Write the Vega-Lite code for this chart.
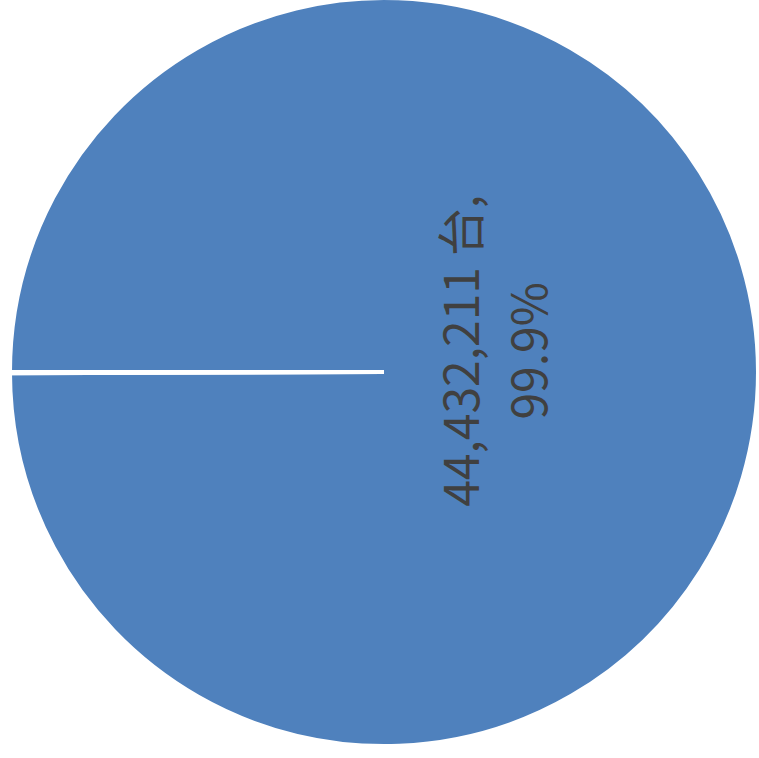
{
  "$schema": "https://vega.github.io/schema/vega-lite/v6.json",
  "width": 750,
  "height": 744,
  "padding": {"left": 9, "top": 0, "right": 0, "bottom": 14},
  "autosize": {"type": "none"},
  "background": "white",
  "data": {
    "values": [
      {"category": "A", "value": 44432211, "label": ["44,432,211 台,", "99.9%"]},
      {"category": "B", "value": 25000, "label": ["25,000 台,", "0.1%"]}
    ]
  },
  "encoding": {
    "theta": {"field": "value", "type": "quantitative", "stack": true, "scale": {"range": [-1.5708, 4.7124]}},
    "order": {"field": "value", "type": "quantitative", "sort": "descending"}
  },
  "layer": [
    {
      "mark": {"type": "arc", "radius": 374, "stroke": "white", "strokeWidth": 4, "color": "#4f81bd"}
    },
    {
      "transform": [{"filter": "datum.value > 1000000"}],
      "mark": {
        "type": "text",
        "radius": 81,
        "angle": 270,
        "fontSize": 48,
        "font": "Noto Sans CJK JP",
        "color": "#404040",
        "lineHeight": 68,
        "align": "center",
        "baseline": "middle",
        "dx": 21
      },
      "encoding": {"text": {"field": "label", "type": "nominal"}}
    }
  ]
}
